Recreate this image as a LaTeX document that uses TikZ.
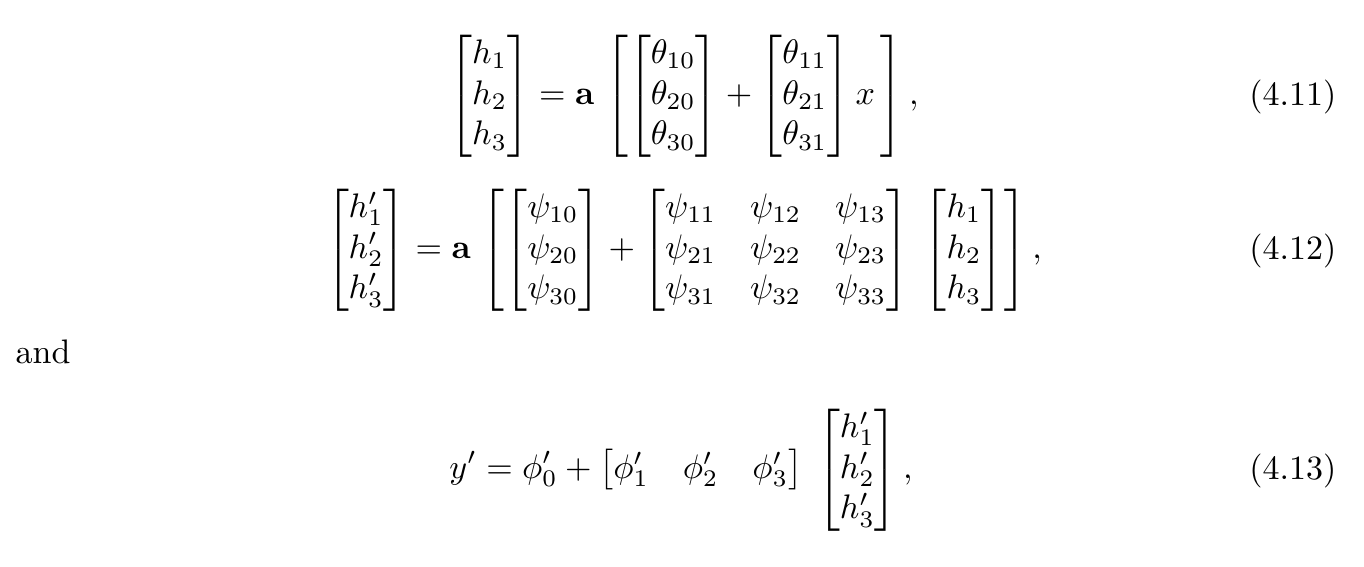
\documentclass[tikz,border=0pt]{standalone}
\usepackage{amsmath}
\begin{document}
\begin{tikzpicture}[x=0.294pt,y=-0.294pt,
  eq/.style={inner sep=0pt, anchor=base},
  num/.style={inner sep=0pt, anchor=base east},
  txt/.style={inner sep=0pt, anchor=base west}]
\useasboundingbox (0,0) rectangle (1364,566);
\node[eq] (eq1) at (684,104.5) {$\displaystyle
  \begin{bmatrix}h_1\\h_2\\h_3\end{bmatrix}
  = \mathbf{a}\,\left[\begin{bmatrix}\theta_{10}\\\theta_{20}\\\theta_{30}\end{bmatrix}
  + \begin{bmatrix}\theta_{11}\\\theta_{21}\\\theta_{31}\end{bmatrix} x\,\right],$};
\node[num] (n1) at (1337,105) {(4.11)};
\node[eq] (eq2) at (684,258.5) {$\displaystyle
  \begin{bmatrix}h'_1\\h'_2\\h'_3\end{bmatrix}
  = \mathbf{a}\,\left[\begin{bmatrix}\psi_{10}\\\psi_{20}\\\psi_{30}\end{bmatrix}
  + \begin{bmatrix}\psi_{11}&\psi_{12}&\psi_{13}\\\psi_{21}&\psi_{22}&\psi_{23}\\\psi_{31}&\psi_{32}&\psi_{33}\end{bmatrix}\;
  \begin{bmatrix}h_1\\h_2\\h_3\end{bmatrix}\right],$};
\node[num] (n2) at (1337,259) {(4.12)};
\node[txt] (and) at (15,363) {and};
\node[eq] (eq3) at (681,478.5) {$\displaystyle
  y' = \phi'_0 + \begin{bmatrix}\phi'_1&\phi'_2&\phi'_3\end{bmatrix}\;
  \begin{bmatrix}h'_1\\h'_2\\h'_3\end{bmatrix},$};
\node[num] (n3) at (1337,479) {(4.13)};
\end{tikzpicture}
\end{document}
